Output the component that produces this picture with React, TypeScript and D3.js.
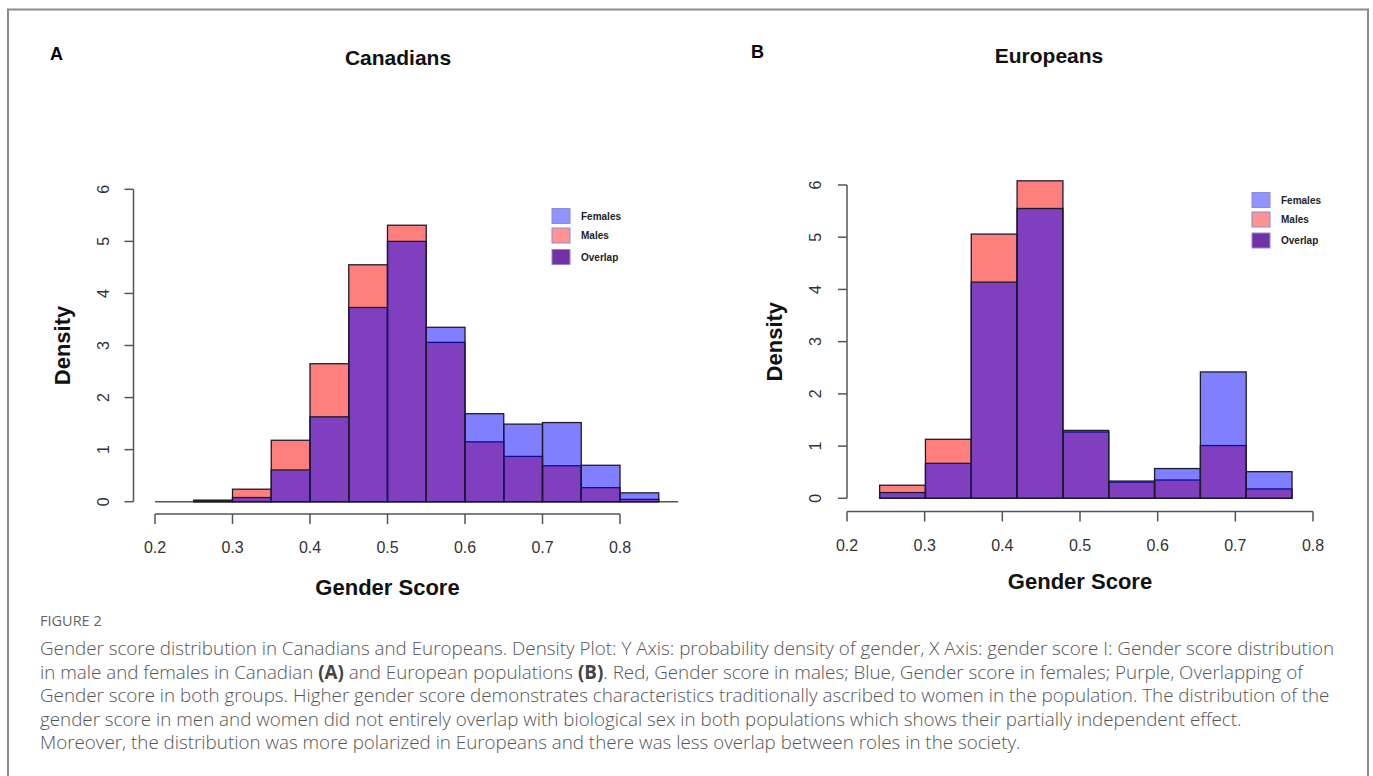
import * as d3 from 'd3'

// Canadians: bin edges (gender score) and density per bin
const canEdges = [0.25, 0.3, 0.35, 0.4, 0.45, 0.5, 0.55, 0.6, 0.65, 0.7, 0.75, 0.8, 0.85]
const canMales = [0.03, 0.24, 1.18, 2.65, 4.55, 5.31, 3.06, 1.15, 0.87, 0.69, 0.27, 0.045]
const canFemales = [0.02, 0.08, 0.61, 1.63, 3.73, 5.0, 3.35, 1.69, 1.49, 1.52, 0.7, 0.17]

// Europeans
const eurEdges = [0.242, 0.301, 0.36, 0.419, 0.478, 0.537, 0.596, 0.655, 0.714, 0.773]
const eurMales = [0.25, 1.13, 5.06, 6.08, 1.27, 0.31, 0.35, 1.01, 0.18]
const eurFemales = [0.11, 0.67, 4.14, 5.55, 1.3, 0.33, 0.57, 2.42, 0.51]

const xTicks = [0.2, 0.3, 0.4, 0.5, 0.6, 0.7, 0.8]
const yTicks = [0, 1, 2, 3, 4, 5, 6]

const legendItems = [
  { label: 'Females', fill: '#9393ff' },
  { label: 'Males', fill: '#ff9393' },
  { label: 'Overlap', fill: '#7232a6' },
]

const captionLines = [
  [{ t: 'Gender score distribution in Canadians and Europeans. Density Plot: Y Axis: probability density of gender, X Axis: gender score I: Gender score distribution' }],
  [
    { t: 'in male and females in Canadian ' },
    { t: '(A)', b: true },
    { t: ' and European populations ' },
    { t: '(B)', b: true },
    { t: '. Red, Gender score in males; Blue, Gender score in females; Purple, Overlapping of' },
  ],
  [{ t: 'Gender score in both groups. Higher gender score demonstrates characteristics traditionally ascribed to women in the population. The distribution of the' }],
  [{ t: 'gender score in men and women did not entirely overlap with biological sex in both populations which shows their partially independent effect.' }],
  [{ t: 'Moreover, the distribution was more polarized in Europeans and there was less overlap between roles in the society.' }],
]

const FONT = '"Liberation Sans", Arial, sans-serif'

type PanelProps = {
  letter: string
  title: string
  edges: number[]
  males: number[]
  females: number[]
  xRange: [number, number]
  yRange: [number, number]
  yAxisX: number
  xAxisY: number
  yLabelX: number
  xLabelY: number
  densityX: number
  scoreY: number
  letterPos: [number, number]
  titlePos: [number, number]
  legendPos: [number, number]
  legendGaps: number[]
  zeroLine?: [number, number]
}

function Panel(p: PanelProps) {
  const x = d3.scaleLinear().domain([0.2, 0.8]).range(p.xRange)
  const y = d3.scaleLinear().domain([0, 6]).range(p.yRange)
  const bins = d3.range(p.edges.length - 1).map((i) => ({ x0: p.edges[i], x1: p.edges[i + 1] }))
  const bar = (vals: number[], fill: string) =>
    bins.map((b, i) => (
      <rect
        key={fill + i}
        x={x(b.x0)}
        y={y(vals[i])}
        width={x(b.x1) - x(b.x0)}
        height={y(0) - y(vals[i])}
        fill={fill}
        stroke="#1c1c2a"
        strokeWidth={1.3}
      />
    ))
  const midY = (y(0) + y(6)) / 2
  return (
    <g fontFamily={FONT}>
      <text x={p.letterPos[0]} y={p.letterPos[1]} fontSize={18} fontWeight={700} fill="#000">{p.letter}</text>
      <text x={p.titlePos[0]} y={p.titlePos[1]} fontSize={21} fontWeight={700} textAnchor="middle" fill="#111">{p.title}</text>

      {p.zeroLine && (
        <line x1={x(p.zeroLine[0])} x2={x(p.zeroLine[1])} y1={y(0)} y2={y(0)} stroke="#555" strokeWidth={1.5} />
      )}
      {bar(p.males, 'rgba(255,0,0,0.5)')}
      {bar(p.females, 'rgba(0,0,255,0.5)')}

      {/* y axis */}
      <line x1={p.yAxisX} x2={p.yAxisX} y1={y(0)} y2={y(6)} stroke="#555" strokeWidth={1.5} />
      {yTicks.map((t) => (
        <g key={t}>
          <line x1={p.yAxisX - 9} x2={p.yAxisX} y1={y(t)} y2={y(t)} stroke="#555" strokeWidth={1.5} />
          <text
            transform={`translate(${p.yLabelX},${y(t)}) rotate(-90)`}
            textAnchor="middle"
            dominantBaseline="central"
            fontSize={16}
            fill="#333"
          >
            {t}
          </text>
        </g>
      ))}

      {/* x axis */}
      <line x1={x(0.2)} x2={x(0.8)} y1={p.xAxisY} y2={p.xAxisY} stroke="#555" strokeWidth={1.5} />
      {xTicks.map((t) => (
        <g key={t}>
          <line x1={x(t)} x2={x(t)} y1={p.xAxisY} y2={p.xAxisY + 10} stroke="#555" strokeWidth={1.5} />
          <text x={x(t)} y={p.xLabelY} textAnchor="middle" fontSize={16} fill="#333">{d3.format('.1f')(t)}</text>
        </g>
      ))}

      <text
        transform={`translate(${p.densityX},${midY}) rotate(-90)`}
        textAnchor="middle"
        dominantBaseline="central"
        fontSize={22}
        fontWeight={700}
        fill="#111"
      >
        Density
      </text>
      <text x={(x(0.2) + x(0.8)) / 2} y={p.scoreY} textAnchor="middle" fontSize={22} fontWeight={700} fill="#111">
        Gender Score
      </text>

      {legendItems.map((d, i) => (
        <g key={d.label} transform={`translate(${p.legendPos[0]},${p.legendPos[1] + p.legendGaps[i]})`}>
          <rect x={0} y={0} width={18} height={15} fill={d.fill} stroke="#8a8ad8" strokeWidth={1} />
          <text x={29} y={7.5} dominantBaseline="central" fontSize={10} fontWeight={700} fill="#222">{d.label}</text>
        </g>
      ))}
    </g>
  )
}

export default function App() {
  return (
    <svg
      width={1373}
      height={776}
      style={{ position: 'absolute', left: 0, top: 0, display: 'block', background: '#fff' }}
    >
      <rect x={0} y={0} width={1373} height={776} fill="#fff" />
      <path d="M8,785 V9.5 H1368 V785" fill="none" stroke="#8c8c8c" strokeWidth={2} />

      <Panel
        letter="A"
        title="Canadians"
        edges={canEdges}
        males={canMales}
        females={canFemales}
        xRange={[155, 620]}
        yRange={[501.7, 189.3]}
        yAxisX={133.5}
        xAxisY={514}
        yLabelX={103}
        xLabelY={553}
        densityX={62}
        scoreY={595}
        letterPos={[50, 60]}
        titlePos={[398, 65]}
        legendPos={[552, 208.5]}
        legendGaps={[0, 19.5, 41]}
        zeroLine={[0.2, 0.875]}
      />
      <Panel
        letter="B"
        title="Europeans"
        edges={eurEdges}
        males={eurMales}
        females={eurFemales}
        xRange={[847, 1313]}
        yRange={[498.3, 185]}
        yAxisX={847}
        xAxisY={511.5}
        yLabelX={815}
        xLabelY={551}
        densityX={774}
        scoreY={589}
        letterPos={[751, 58]}
        titlePos={[1049, 63]}
        legendPos={[1252, 192.5]}
        legendGaps={[0, 19.5, 40.5]}
      />

      <g fontFamily='"Open Sans", Lato, sans-serif' fill="#555">
        <text x={40} y={626} fontSize={14.5} fontWeight={400} fill="#666">FIGURE 2</text>
        {captionLines.map((line, i) => (
          <text key={i} x={40} y={655 + i * 23.6} fontSize={18.8} fontWeight={300}>
            {line.map((s, j) => (
              <tspan key={j} fontWeight={s.b ? 700 : 300} fill={s.b ? '#444' : '#555'}>{s.t}</tspan>
            ))}
          </text>
        ))}
      </g>
    </svg>
  )
}
